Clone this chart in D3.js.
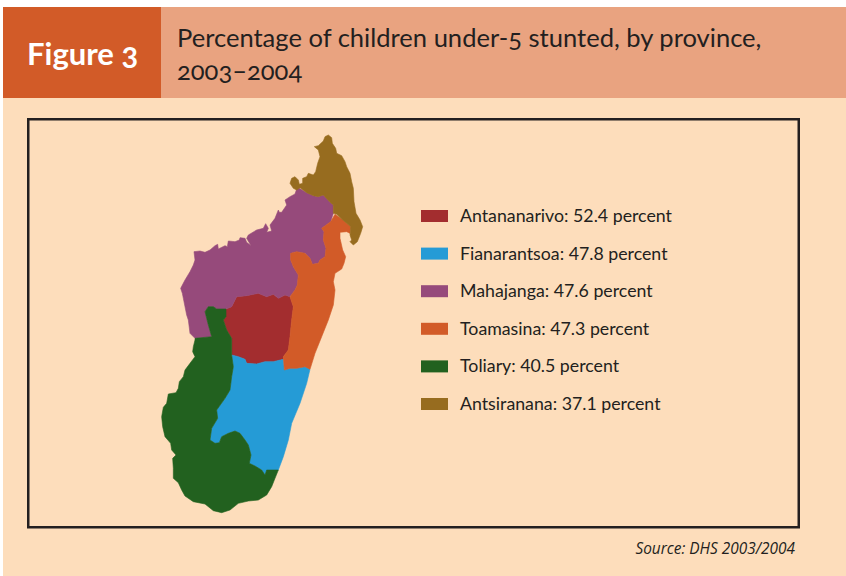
<!DOCTYPE html>
<html><head><meta charset="utf-8">
<script src="https://cdn.jsdelivr.net/npm/d3@7"></script>
<style>html,body{margin:0;padding:0;background:#fff}svg{display:block}</style>
</head><body><svg id="c" width="846" height="576"></svg>
<script>
const provinces=["Antananarivo","Fianarantsoa","Mahajanga","Toamasina","Toliary","Antsiranana"];
const percents=[52.4,47.8,47.6,47.3,40.5,37.1];
const colours=["#A32D2F","#259BD6","#964A7B","#D25B28","#22611F","#976C1F"];
const titleLines=["Percentage of children under-5 stunted, by province,","2003–2004"];
const figureLabel="Figure 3";
const sourceNote="Source: DHS 2003/2004";

// Province outlines, in map units (one unit = a third of a drawn pixel)
const antananarivo=[[260,515],[290,512],[325,505],[350,515],[370,508],[385,520],[405,510],[420,515],[430,545],[425,585],[420,635],[415,675],[400,695],[400,703],[370,710],[345,710],[320,717],[290,715],[285,703],[265,695],[245,690],[245,640],[230,615],[220,585],[228,575],[228,552],[245,545]];
const fianarantsoa=[[245,690],[265,695],[285,703],[290,715],[320,717],[345,710],[370,710],[400,703],[403,735],[420,730],[440,730],[465,725],[480,733],[470,775],[450,835],[425,895],[415,945],[400,995],[385,1035],[365,1035],[350,1035],[345,1050],[335,1035],[315,1023],[298,1015],[303,990],[295,960],[285,945],[270,925],[255,918],[235,925],[215,935],[208,953],[195,955],[180,945],[185,910],[203,880],[200,855],[225,820],[240,795],[245,755],[250,725]];
const mahajanga=[[440,192],[448,190],[470,203],[490,212],[505,215],[520,210],[540,232],[550,240],[550,265],[542,290],[515,310],[522,320],[520,345],[528,370],[525,395],[510,405],[505,415],[487,418],[480,400],[465,385],[440,380],[422,385],[422,405],[430,425],[445,450],[442,480],[435,495],[420,515],[405,510],[385,520],[370,508],[350,515],[325,505],[290,512],[260,515],[245,545],[228,552],[200,552],[190,545],[175,545],[165,560],[175,600],[185,635],[135,640],[120,625],[115,585],[110,570],[100,520],[97,505],[92,490],[105,465],[120,440],[130,420],[135,405],[132,380],[150,378],[165,382],[180,375],[195,362],[203,358],[205,372],[225,362],[232,365],[235,348],[255,350],[268,345],[270,338],[285,340],[290,352],[303,362],[290,340],[295,330],[320,315],[340,310],[347,296],[355,310],[350,322],[365,318],[360,300],[375,280],[385,255],[388,262],[395,262],[410,240],[405,225],[420,215],[435,207]];
const toamasina=[[555,268],[575,282],[590,295],[602,305],[600,325],[590,320],[570,322],[570,340],[578,375],[587,395],[582,415],[575,432],[555,445],[550,470],[555,495],[550,540],[535,585],[515,635],[495,685],[480,733],[465,725],[440,730],[420,730],[403,735],[400,695],[415,675],[420,635],[425,585],[430,545],[420,515],[435,495],[442,480],[445,450],[430,425],[422,405],[422,385],[440,380],[465,385],[480,400],[487,418],[505,415],[510,405],[525,395],[528,370],[520,345],[522,320],[515,310],[542,290]];
const toliary=[[165,560],[175,545],[190,545],[200,552],[228,552],[228,575],[220,585],[230,615],[245,640],[245,690],[250,725],[245,755],[240,795],[225,820],[200,855],[203,880],[185,910],[180,945],[195,955],[208,953],[215,935],[235,925],[255,918],[270,925],[285,945],[295,960],[303,990],[298,1015],[315,1023],[335,1035],[345,1050],[350,1035],[365,1035],[385,1035],[375,1060],[365,1085],[350,1110],[325,1125],[295,1128],[265,1135],[240,1155],[215,1163],[190,1157],[165,1137],[130,1130],[105,1113],[95,1095],[85,1073],[70,1060],[70,1030],[68,1000],[78,990],[65,975],[62,955],[45,935],[38,905],[35,875],[40,847],[50,835],[55,807],[78,803],[85,790],[88,770],[100,755],[105,735],[120,715],[135,695],[128,680],[130,665],[135,645],[135,640],[185,635],[175,600]];
const antsiranana=[[535,30],[545,38],[547,55],[557,70],[560,85],[575,92],[585,110],[590,125],[600,145],[605,170],[610,190],[612,230],[618,265],[630,285],[638,305],[632,325],[622,350],[610,360],[600,350],[605,345],[600,330],[602,305],[590,295],[575,282],[560,268],[550,265],[550,240],[540,232],[520,210],[505,215],[490,212],[470,203],[450,188],[440,195],[430,190],[420,175],[425,160],[435,155],[445,165],[448,178],[458,175],[458,160],[470,155],[475,145],[490,150],[497,140],[503,115],[510,95],[505,75],[493,65],[505,62],[520,48],[525,35]];
const outlines=[antananarivo,fianarantsoa,mahajanga,toamasina,toliary,antsiranana];

const svg=d3.select("#c");
const ink="#231F20";
const font="Lato, 'Open Sans', sans-serif";

// panels
svg.append("rect").attr("x",3).attr("y",98).attr("width",843).attr("height",478).attr("fill","#FDDDBB");
svg.append("rect").attr("x",3).attr("y",7).attr("width",158).attr("height",91).attr("fill","#D25B28");
svg.append("rect").attr("x",161).attr("y",7).attr("width",685).attr("height",91).attr("fill","#E9A380");
svg.append("rect").attr("x",28.25).attr("y",119.25).attr("width",770.5).attr("height",408).attr("fill","none").attr("stroke",ink).attr("stroke-width",2.5);

// header text
svg.append("text").attr("x",27).attr("y",65).attr("fill","#fff").attr("font-family",font).attr("font-weight",700)
  .attr("font-size",31).style("font-variant-numeric","oldstyle-nums").text(figureLabel);
svg.append("g").selectAll("text").data(titleLines).join("text")
  .attr("x",177).attr("y",(d,i)=>47+i*33).attr("fill",ink).attr("font-family",font)
  .attr("font-size",25.55).style("font-variant-numeric","oldstyle-nums").text(d=>d);

// map
const mx=d3.scaleLinear().domain([0,690]).range([150,380]);
const my=d3.scaleLinear().domain([0,600]).range([125,325]);
const line=d3.line().x(d=>mx(d[0])).y(d=>my(d[1])).curve(d3.curveLinearClosed);
svg.append("g").selectAll("path").data(outlines).join("path")
  .attr("d",line).attr("fill",(d,i)=>colours[i]).attr("stroke",(d,i)=>colours[i]).attr("stroke-width",0.6);

// legend
const rows=d3.scalePoint().domain(provinces).range([216,404]);
const lg=svg.append("g").selectAll("g").data(provinces).join("g");
lg.append("rect").attr("x",421).attr("y",d=>rows(d)-6).attr("width",27).attr("height",12).attr("fill",(d,i)=>colours[i]);
lg.append("text").attr("x",460).attr("y",d=>rows(d)+6).attr("fill",ink).attr("font-family",font)
  .attr("font-size",17.75).text((d,i)=>`${d}: ${percents[i]} percent`);

// source
svg.append("text").attr("x",795).attr("y",553.5).attr("text-anchor","end").attr("fill",ink)
  .attr("font-family","'Open Sans', sans-serif").attr("font-style","italic").attr("font-size",15.4).text(sourceNote);
</script></body></html>
